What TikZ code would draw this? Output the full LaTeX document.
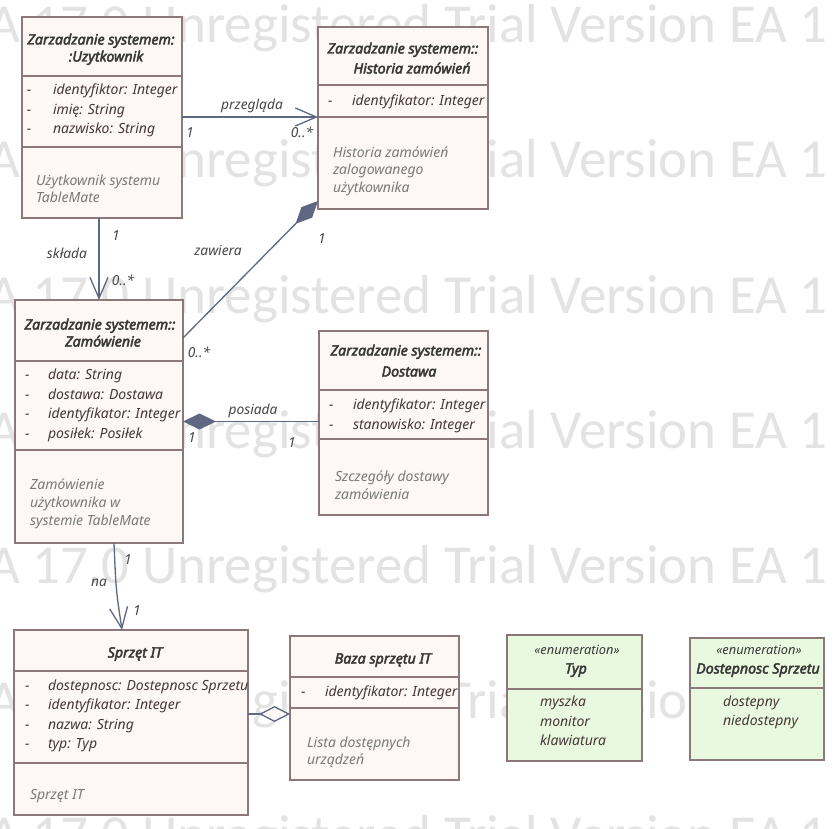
\documentclass[tikz,border=0pt]{standalone}
\usepackage{fontspec}
\setmainfont{Noto Sans}
\newfontfamily\ttlfont{Noto Sans}[UprightFeatures={FakeBold=3}, ItalicFeatures={FakeBold=3}]
\newfontfamily\wmfont{Carlito}
\usetikzlibrary{arrows.meta,calc}
\definecolor{boxfill}{HTML}{FDF8F5}
\definecolor{enumfill}{HTML}{E9F9DF}
\definecolor{boxline}{HTML}{8C7878}
\definecolor{conncol}{HTML}{5E6882}
\definecolor{titlecol}{HTML}{383838}
\definecolor{attrcol}{HTML}{473838}
\definecolor{notecol}{HTML}{7A7A7A}
\definecolor{labcol}{HTML}{474747}
\definecolor{wmcol}{HTML}{E3E3E3}
\begin{document}
\begin{tikzpicture}[x=1pt,y=-1pt,
  cls/.style={draw=boxline, fill=boxfill, line width=1.1pt, inner sep=0, outer sep=0, anchor=north west},
  enumbox/.style={cls, fill=enumfill},
  divider/.style={draw=boxline, line width=1.1pt},
  txt/.style={inner sep=0, outer sep=0, text height=.75em, text depth=.25em},
  ttl/.style={txt, text=titlecol, font=\ttlfont\fontsize{14.2}{16}\selectfont\itshape},
  attr/.style={txt, anchor=west, text=attrcol, font=\fontsize{14}{16}\selectfont\itshape},
  note/.style={txt, anchor=west, text=notecol, font=\fontsize{14}{16}\selectfont\itshape},
  stereo/.style={txt, text=titlecol, font=\fontsize{12.8}{15}\selectfont\itshape},
  lab/.style={txt, text=labcol, font=\fontsize{13.8}{16}\selectfont\itshape},
  conn/.style={draw=conncol, line width=1.3pt},
  openarrow/.style={-{Straight Barb[length=21pt,width=18pt,line width=1.3pt]}},
  wm/.style={inner sep=0, outer sep=0, anchor=base west, text=wmcol, font=\wmfont\fontsize{55}{60}\selectfont}
]
\useasboundingbox (0,0) rectangle (840,829);
\begin{scope}
\clip (0,0) rectangle (840,829);
\fill[white] (0,0) rectangle (840,829);
\foreach \yy/\nm in {43/w1,178/w2,313/w3,448/w4,583/w5,718/w6,853/w7}
  \node[wm] (\nm) at (-12,\yy) {A 17.0 Unregistered Trial Version EA 1};
\end{scope}

% ---------- boxes ----------
\node[cls, minimum width=160, minimum height=201] (u) at (22,17) {};
\node[cls, minimum width=170, minimum height=182] (h) at (318,27) {};
\node[cls, minimum width=168, minimum height=243] (z) at (15,300) {};
\node[cls, minimum width=169, minimum height=184] (d) at (319,331) {};
\node[cls, minimum width=234, minimum height=185] (s) at (14,630) {};
\node[cls, minimum width=169, minimum height=144] (b) at (290,636) {};
\node[enumbox, minimum width=135, minimum height=126] (t) at (507,635) {};
\node[enumbox, minimum width=134, minimum height=122] (ds) at (690,638) {};

% ---------- dividers ----------
\foreach \bx/\yy in {u/76,u/147,h/85,h/117,z/361,z/450,d/390,d/439,s/671,s/763,b/677,b/708,t/689,ds/688}
  \draw[divider] (\bx.west |- 0,\yy) -- (\bx.east |- 0,\yy);

% ---------- Uzytkownik ----------
\node[ttl] (u1) at (101,42) {Zarzadzanie systemem:};
\node[ttl] (u2) at (106,59) {:Uzytkownik};
\node[attr] (ua1d) at (27,92) {-};
\node[attr] (ua1) at (53,92) {identyfiktor: Integer};
\node[attr] (ua2d) at (27,112) {-};
\node[attr] (ua2) at (53,112) {imię: String};
\node[attr] (ua3d) at (27,131) {-};
\node[attr] (ua3) at (53,131) {nazwisko: String};
\node[note] (un1) at (36,183) {Użytkownik systemu};
\node[note] (un2) at (36,200) {TableMate};

% ---------- Historia ----------
\node[ttl] (h1) at (403,51) {Zarzadzanie systemem::};
\node[ttl] (h2) at (412,71) {Historia zamówień};
\node[attr] (ha1d) at (328,103) {-};
\node[attr] (ha1) at (352,103) {identyfikator: Integer};
\node[note] (hn1) at (333,155) {Historia zamówień};
\node[note] (hn2) at (333,172) {zalogowanego};
\node[note] (hn3) at (333,190) {użytkownika};

% ---------- Zamowienie ----------
\node[ttl] (z1) at (100,327) {Zarzadzanie systemem::};
\node[ttl] (z2) at (103,344) {Zamówienie};
\node[attr] (za1d) at (25,377) {-};
\node[attr] (za1) at (48,377) {data: String};
\node[attr] (za2d) at (25,397) {-};
\node[attr] (za2) at (48,397) {dostawa: Dostawa};
\node[attr] (za3d) at (25,416) {-};
\node[attr] (za3) at (48,416) {identyfikator: Integer};
\node[attr] (za4d) at (25,436) {-};
\node[attr] (za4) at (48,436) {posiłek: Posiłek};
\node[note] (zn1) at (30,487) {Zamówienie};
\node[note] (zn2) at (30,505) {użytkownika w};
\node[note] (zn3) at (30,523) {systemie TableMate};

% ---------- Dostawa ----------
\node[ttl] (d1) at (406,353) {Zarzadzanie systemem::};
\node[ttl] (d2) at (409,374) {Dostawa};
\node[attr] (da1d) at (329,407) {-};
\node[attr] (da1) at (353,407) {identyfikator: Integer};
\node[attr] (da2d) at (329,427) {-};
\node[attr] (da2) at (353,427) {stanowisko: Integer};
\node[note] (dn1) at (335,479) {Szczegóły dostawy};
\node[note] (dn2) at (335,497) {zamówienia};

% ---------- Sprzet IT ----------
\node[ttl] (s1) at (135,655) {Sprzęt IT};
\node[attr] (sa1d) at (25,688) {-};
\node[attr] (sa1) at (48,688) {dostepnosc: Dostepnosc Sprzetu};
\node[attr] (sa2d) at (25,707) {-};
\node[attr] (sa2) at (48,707) {identyfikator: Integer};
\node[attr] (sa3d) at (25,727) {-};
\node[attr] (sa3) at (48,727) {nazwa: String};
\node[attr] (sa4d) at (25,746) {-};
\node[attr] (sa4) at (48,746) {typ: Typ};
\node[note] (sn1) at (30,797) {Sprzęt IT};

% ---------- Baza sprzetu IT ----------
\node[ttl] (b1) at (383,661) {Baza sprzętu IT};
\node[attr] (ba1d) at (301,694) {-};
\node[attr] (ba1) at (325,694) {identyfikator: Integer};
\node[note] (bn1) at (307,745) {Lista dostępnych};
\node[note] (bn2) at (307,762) {urządzeń};

% ---------- Typ ----------
\node[stereo] (t0) at (577,652) {«enumeration»};
\node[ttl] (t1) at (576,671) {Typ};
\node[attr] (tv1) at (540,704) {myszka};
\node[attr] (tv2) at (540,724) {monitor};
\node[attr] (tv3) at (540,743) {klawiatura};

% ---------- Dostepnosc Sprzetu ----------
\node[stereo] (ds0) at (759,652) {«enumeration»};
\node[ttl] (ds1) at (758,671) {Dostepnosc Sprzetu};
\node[attr] (dsv1) at (723,704) {dostepny};
\node[attr] (dsv2) at (723,723) {niedostepny};

% ---------- connectors ----------
\draw[conn, openarrow] (u.east |- 0,117) -- (h.west |- 0,117);
\node[lab] (l1) at (252,107) {przegląda};
\node[lab] (l1a) at (190,135) {1};
\node[lab] (l1b) at (302,135) {0..*};

\draw[conn, openarrow] (99,0 |- u.south) -- (99,0 |- z.north);
\node[lab] (l2a) at (116,238) {1};
\node[lab] (l2) at (67,256) {składa};
\node[lab] (l2b) at (123,283) {0..*};

\draw[conn, -{Diamond[length=32pt,width=15pt]}, fill=conncol] (z.east |- 0,338) -- (h.west |- 0,201);
\node[lab] (l3) at (218,253) {zawiera};
\node[lab] (l3a) at (322,241) {1};
\node[lab] (l3b) at (199,355) {0..*};

\draw[conn, {Diamond[length=33pt,width=16pt]}-, fill=conncol] (z.east |- 0,421.5) -- (d.west |- 0,421.5);
\node[lab] (l4) at (253,412) {posiada};
\node[lab] (l4a) at (192,440) {1};
\node[lab] (l4b) at (292,445) {1};

\draw[conn, openarrow] (114,0 |- z.south) .. controls (116,590) .. (122,0 |- s.north);
\node[lab] (l5a) at (128,562) {1};
\node[lab] (l5) at (99,584) {na};
\node[lab] (l5b) at (137,613) {1};

\draw[conn, -{Diamond[open,length=31pt,width=16pt,fill=boxfill]}] (s.east |- 0,714) -- (b.west |- 0,714);
\end{tikzpicture}
\end{document}
